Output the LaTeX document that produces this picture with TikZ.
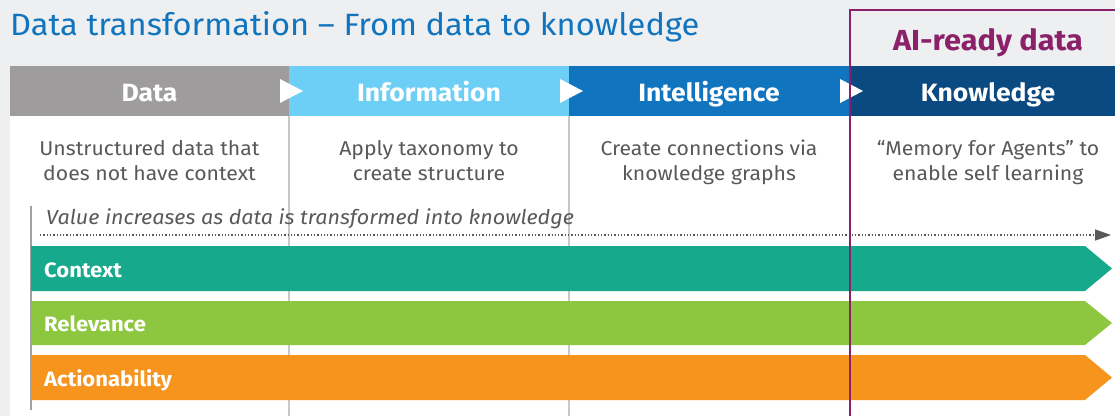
\documentclass[tikz,border=0pt]{standalone}
\usepackage{fontspec}
\setmainfont{Fira Sans}[FakeStretch=1.06]
\usetikzlibrary{arrows.meta}
\definecolor{bgc}{HTML}{EEEFF1}
\definecolor{titleblue}{HTML}{1174BE}
\definecolor{cData}{HTML}{9E9C9D}
\definecolor{cInfo}{HTML}{6DCFF6}
\definecolor{cIntel}{HTML}{1174BE}
\definecolor{cKnow}{HTML}{0B4A80}
\definecolor{aipurple}{HTML}{8B2269}
\definecolor{txtgray}{HTML}{58595B}
\definecolor{divgray}{HTML}{C8C8C8}
\definecolor{cCtx}{HTML}{17A98C}
\definecolor{cRel}{HTML}{8DC63F}
\definecolor{cAct}{HTML}{F7941D}
\begin{document}
\begin{tikzpicture}[x=1pt,y=-1pt,
  hdr/.style={font=\fontsize{25}{28}\selectfont\bfseries, text=white, anchor=base, inner sep=0},
  desc/.style={font=\fontsize{20}{26}\selectfont, text=txtgray, anchor=base, inner sep=0},
  barlbl/.style={font=\fontsize{20.8}{24}\selectfont\bfseries, text=white, anchor=base west, inner sep=0},
  tri/.style={fill=white, draw=none},
  divline/.style={draw=divgray, line width=1.2pt}]
\useasboundingbox (0,0) rectangle (1115,416);
\fill[bgc] (0,0) rectangle (1115,416);
% white panel
\fill[white] (10,116) rectangle (1115,416);
% title
\node[font=\fontsize{30.8}{34}\selectfont, text=titleblue, anchor=base west, inner sep=0] (title) at (10,35) {Data transformation – From data to knowledge};
% header bars
\fill[cData] (10,66) rectangle (289,116);
\fill[cInfo] (289,66) rectangle (569,116);
\fill[cIntel] (569,66) rectangle (849,116);
\fill[cKnow] (849,66) rectangle (1115,116);
\fill[tri] (280,79) -- (303,91) -- (280,103) -- cycle;
\fill[tri] (560,79) -- (583,91) -- (560,103) -- cycle;
\fill[tri] (840,79) -- (863,91) -- (840,103) -- cycle;
\node[hdr] (hData) at (149.5,101) {Data};
\node[hdr] (hInfo) at (429,101) {Information};
\node[hdr] (hIntel) at (709,101) {Intelligence};
\node[hdr] (hKnow) at (988,101) {Knowledge};
% column dividers
\draw[divline] (289,116) -- (289,416);
\draw[divline] (569,116) -- (569,416);
% descriptions
\node[desc] (dData1) at (149.5,155) {Unstructured data that};
\node[desc] (dData2) at (149.5,180) {does not have context};
\node[desc] (dInfo1) at (429,155) {Apply taxonomy to};
\node[desc] (dInfo2) at (429,180) {create structure};
\node[desc] (dIntel1) at (709,155) {Create connections via};
\node[desc] (dIntel2) at (709,180) {knowledge graphs};
\node[desc] (dKnow1) at (988,155) {“Memory for Agents” to};
\node[desc] (dKnow2) at (988,180) {enable self learning};
% value axis
\draw[divgray!80!black, line width=1.2pt] (31,206) -- (31,410);
\node[font=\fontsize{20.3}{22}\selectfont\itshape, text=txtgray, anchor=base west, inner sep=0] (vtext) at (46,224) {Value increases as data is transformed into knowledge};
\coordinate (vstart) at (40,235);
\coordinate (vend) at (1111,235);
\draw[txtgray, line width=1.3pt, dotted, -{Triangle[length=16pt,width=11pt]}] (vstart) -- (vend);
% bars
\fill[cCtx] (31,246) -- (1085,246) -- (1112,268.5) -- (1085,291) -- (31,291) -- cycle;
\fill[cRel] (31,301) -- (1085,301) -- (1112,323) -- (1085,345) -- (31,345) -- cycle;
\fill[cAct] (31,355) -- (1085,355) -- (1112,377.5) -- (1085,400) -- (31,400) -- cycle;
\node[barlbl] (bCtx) at (44,277) {Context};
\node[barlbl] (bRel) at (44,331.5) {Relevance};
\node[barlbl] (bAct) at (44,386) {Actionability};
% AI-ready box
\draw[aipurple, line width=2.4pt] (850,416) -- (850,10) -- (1125,10);
\node[font=\fontsize{29}{32}\selectfont\bfseries, text=aipurple, anchor=base, inner sep=0] (ai) at (988,50) {AI-ready data};
\end{tikzpicture}
\end{document}
